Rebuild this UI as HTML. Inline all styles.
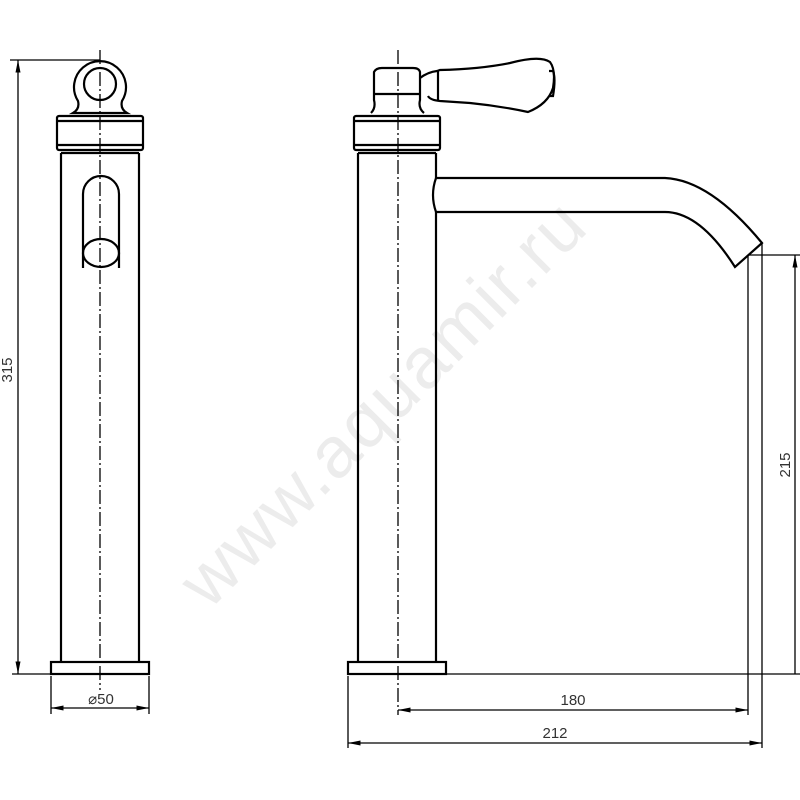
<!DOCTYPE html>
<html><head><meta charset="utf-8"><style>html,body{margin:0;padding:0;background:#fff}svg{display:block}</style></head>
<body>
<svg width="800" height="800" viewBox="0 0 800 800" xmlns="http://www.w3.org/2000/svg" font-family="Liberation Sans, sans-serif">
<defs>
<marker id="a" viewBox="0 0 10 4" refX="10" refY="2" markerWidth="14" markerHeight="5" orient="auto-start-reverse" markerUnits="userSpaceOnUse"><path d="M0,0 L10,2 L0,4z" fill="#000"/></marker>
</defs>
<text x="400" y="420" font-size="72" fill="#ececec" text-anchor="middle" transform="rotate(-45 400 420)" letter-spacing="2">www.aquamir.ru</text>
<g fill="none" stroke="#000" stroke-width="2.2">
<!-- left view -->
<rect x="51" y="662" width="98" height="12"/>
<line x1="61" y1="153" x2="61" y2="662"/><line x1="139" y1="153" x2="139" y2="662"/>
<rect x="57" y="116" width="86" height="34" rx="2"/>
<line x1="57" y1="121" x2="143" y2="121"/><line x1="57" y1="145" x2="143" y2="145"/>
<line x1="61" y1="153" x2="139" y2="153"/>
<path d="M73,113 Q80,109 78,101 A26,26 0 1 1 122,101 Q120,109 127,113 Z"/>
<circle cx="100" cy="84" r="16"/>
<path d="M83,268 L83,194 A18,18 0 0 1 119,194 L119,268"/>
<ellipse cx="101" cy="253" rx="18" ry="14"/>
<!-- right view -->
<rect x="348" y="662" width="98" height="12"/>
<line x1="358" y1="153" x2="358" y2="662"/><line x1="436" y1="153" x2="436" y2="178"/><line x1="436" y1="212" x2="436" y2="662"/>
<rect x="354" y="116" width="86" height="34" rx="2"/>
<line x1="354" y1="121" x2="440" y2="121"/><line x1="354" y1="145" x2="440" y2="145"/>
<line x1="358" y1="153" x2="436" y2="153"/>
<path d="M371,113 Q376,108 374,100 L374,72 Q376,68 382,68 L413,68 Q419,68 420,72 L420,100 Q418,108 424,113"/>
<line x1="374" y1="94" x2="420" y2="94"/>
<path d="M420,78 Q428,72 437,71 L440,70 Q480,69 510,63 Q540,55 550,62 Q556,70 553,88 Q548,104 528,112 Q500,106 470,103 L440,101 Q430,100 428,96"/>
<line x1="438" y1="71" x2="438" y2="100"/>
<path d="M549,71 L553,71 Q556,78 553,96 L549,96"/>
<path d="M436,178 L665,178 Q710,180 762,243 L735,267 Q700,212 665,212 L436,212"/>
<path d="M436,178 Q430,195 436,212"/>
</g>
<g stroke="#000" stroke-width="1.3" fill="none">
<line x1="100" y1="50" x2="100" y2="690" stroke-dasharray="14,3,2,3"/>
<line x1="398" y1="50" x2="398" y2="715" stroke-dasharray="14,3,2,3"/>
<line x1="10" y1="60" x2="100" y2="60"/>
<line x1="12" y1="674" x2="50" y2="674"/>
<line x1="18" y1="60" x2="18" y2="674" marker-start="url(#a)" marker-end="url(#a)"/>
<line x1="51" y1="676" x2="51" y2="714"/><line x1="149" y1="676" x2="149" y2="714"/>
<line x1="51" y1="708" x2="149" y2="708" marker-start="url(#a)" marker-end="url(#a)"/>
<line x1="446" y1="674" x2="800" y2="674"/>
<line x1="748" y1="255" x2="748" y2="715"/><line x1="762" y1="243" x2="762" y2="748"/>
<line x1="748" y1="255" x2="800" y2="255"/>
<line x1="795" y1="255" x2="795" y2="674" marker-start="url(#a)"/>
<line x1="398" y1="710" x2="748" y2="710" marker-start="url(#a)" marker-end="url(#a)"/>
<line x1="348" y1="676" x2="348" y2="748"/>
<line x1="348" y1="743" x2="762" y2="743" marker-start="url(#a)" marker-end="url(#a)"/>
</g>
<g fill="#333" font-size="15">
<text x="12" y="370" text-anchor="middle" transform="rotate(-90 12 370)">315</text>
<text x="101" y="704" text-anchor="middle">⌀50</text>
<text x="573" y="705" text-anchor="middle">180</text>
<text x="555" y="738" text-anchor="middle">212</text>
<text x="790" y="465" text-anchor="middle" transform="rotate(-90 790 465)">215</text>
</g>
</svg>
</body></html>
